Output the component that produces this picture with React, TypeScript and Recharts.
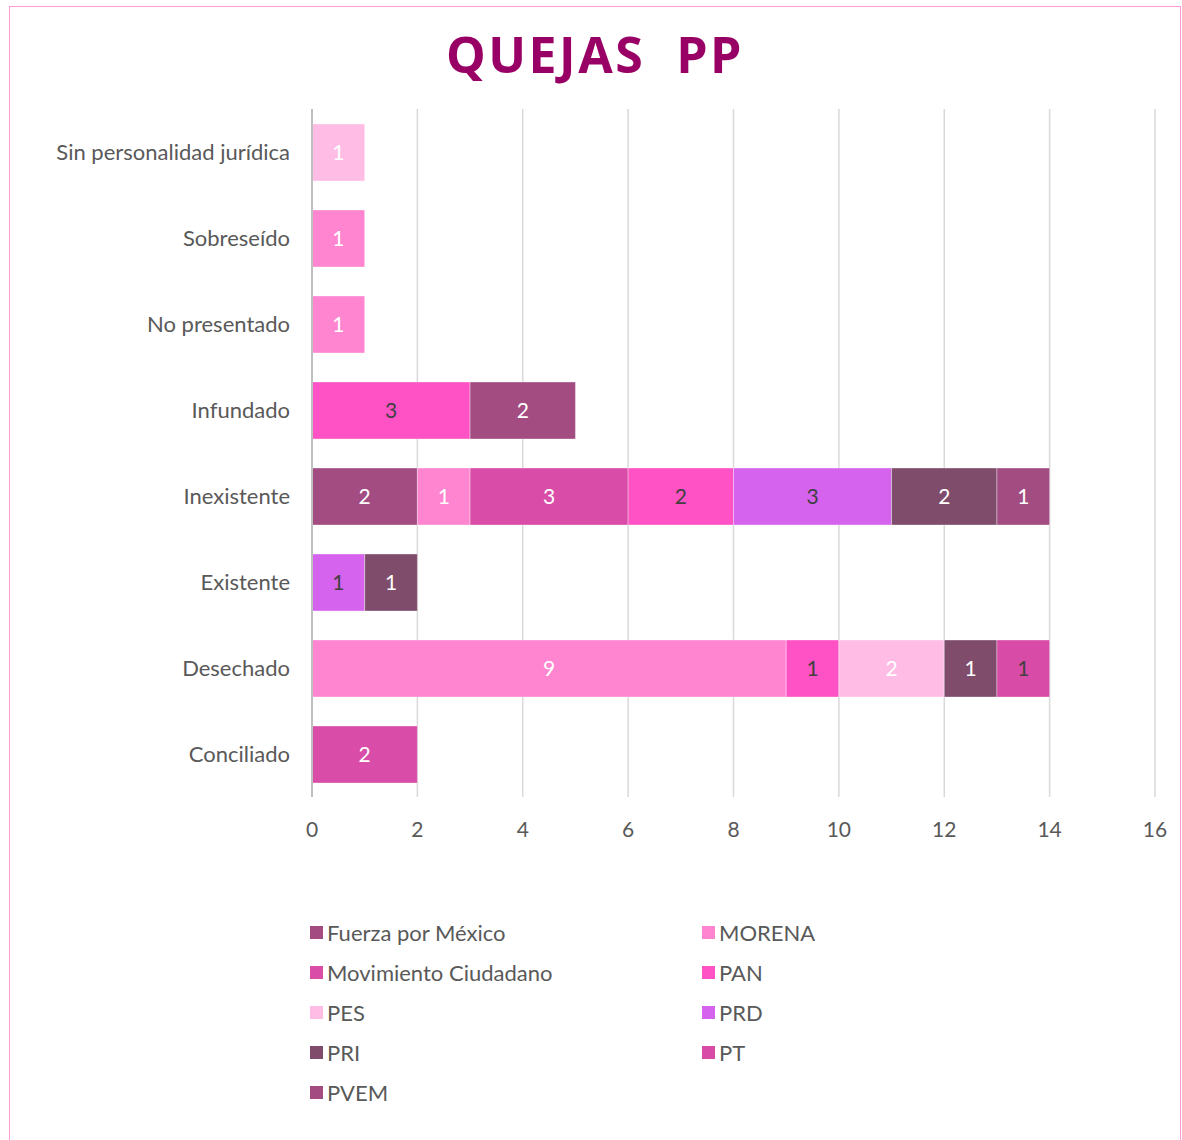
import { BarChart, Bar, XAxis, YAxis, CartesianGrid, LabelList } from 'recharts';

// categorías (de arriba hacia abajo)
const CATEGORIES = [
  'Sin personalidad jurídica',
  'Sobreseído',
  'No presentado',
  'Infundado',
  'Inexistente',
  'Existente',
  'Desechado',
  'Conciliado',
];

const PARTIES = ['Fuerza por México', 'MORENA', 'Movimiento Ciudadano', 'PAN', 'PES', 'PRD', 'PRI', 'PT', 'PVEM'];

// valores por partido, en el orden de CATEGORIES
const FUERZA = [0, 0, 0, 0, 2, 0, 0, 0];
const MORENA = [0, 1, 1, 0, 1, 0, 9, 0];
const MC = [0, 0, 0, 0, 3, 0, 0, 2];
const PAN = [0, 0, 0, 3, 2, 0, 1, 0];
const PES = [1, 0, 0, 0, 0, 0, 2, 0];
const PRD = [0, 0, 0, 0, 3, 1, 0, 0];
const PRI = [0, 0, 0, 0, 2, 1, 1, 0];
const PT = [0, 0, 0, 0, 0, 0, 1, 0];
const PVEM = [0, 0, 0, 2, 1, 0, 0, 0];

const SERIES = [FUERZA, MORENA, MC, PAN, PES, PRD, PRI, PT, PVEM];
const COLORS = ['#A34C82', '#FF85D0', '#D94DA8', '#FF52C5', '#FFBDE6', '#D663EE', '#7F4C6C', '#D84BA6', '#A34C82'];
const LABEL_COLORS = ['#fff', '#fff', '#fff', '#404040', '#fff', '#404040', '#fff', '#404040', '#fff'];
const X_TICKS = [0, 2, 4, 6, 8, 10, 12, 14, 16];

const FONT = 'Lato, "Open Sans", sans-serif';

const data = CATEGORIES.map((c, i) => {
  const row: Record<string, string | number> = { name: c };
  PARTIES.forEach((p, j) => { row[p] = SERIES[j][i]; });
  return row;
});

export default function App() {
  return (
    <div style={{ position: 'absolute', top: 6, left: 9, width: 1170, height: 1150, border: '1.5px solid #FF99DD', fontFamily: FONT }}>
      <div style={{ position: 'absolute', top: 17, left: 0, width: '100%', textAlign: 'center', fontSize: 50, lineHeight: '60px', fontWeight: 700, color: '#990066', whiteSpace: 'pre', fontFamily: '"Open Sans", sans-serif', letterSpacing: 2.5 }}>
        {'QUEJAS  PP'}
      </div>
      <BarChart
        width={1170}
        height={1130}
        data={data}
        layout="vertical"
        margin={{ top: 102, right: 25, bottom: 300, left: 0 }}
        barSize={57}
      >
        <CartesianGrid horizontal={false} vertical stroke="#d9d9d9" strokeWidth={1.5} />
        <XAxis
          type="number"
          domain={[0, 16]}
          ticks={X_TICKS}
          axisLine={false}
          tickLine={false}
          tickSize={0}
          tickMargin={25}
          height={40}
          tick={{ fontSize: 21, fill: '#595959', fontFamily: FONT }}
        />
        <YAxis
          type="category"
          dataKey="name"
          width={302}
          axisLine={{ stroke: '#bfbfbf', strokeWidth: 2 }}
          tickLine={false}
          tickSize={0}
          tickMargin={22}
          tick={{ fontSize: 22, fill: '#595959', fontFamily: FONT }}
        />
        {PARTIES.map((p, i) => (
          <Bar key={p} dataKey={p} stackId="a" fill={COLORS[i]} stroke="rgba(255,255,255,0.35)" strokeWidth={1} isAnimationActive={false}>
            <LabelList
              dataKey={p}
              position="center"
              formatter={((v: any) => (v ? String(v) : '')) as any}
              style={{ fontSize: 21, fill: LABEL_COLORS[i], fontFamily: FONT }}
            />
          </Bar>
        ))}
      </BarChart>
      <div style={{ position: 'absolute', top: 913, left: 300, width: 800, display: 'grid', gridTemplateColumns: '392px 392px', rowGap: 16, fontSize: 22, color: '#595959' }}>
        {PARTIES.map((p, i) => (
          <div key={p} style={{ display: 'flex', alignItems: 'center', height: 24 }}>
            <span style={{ display: 'inline-block', width: 13, height: 13, background: COLORS[i], marginRight: 4 }} />
            <span>{p}</span>
          </div>
        ))}
      </div>
    </div>
  );
}
